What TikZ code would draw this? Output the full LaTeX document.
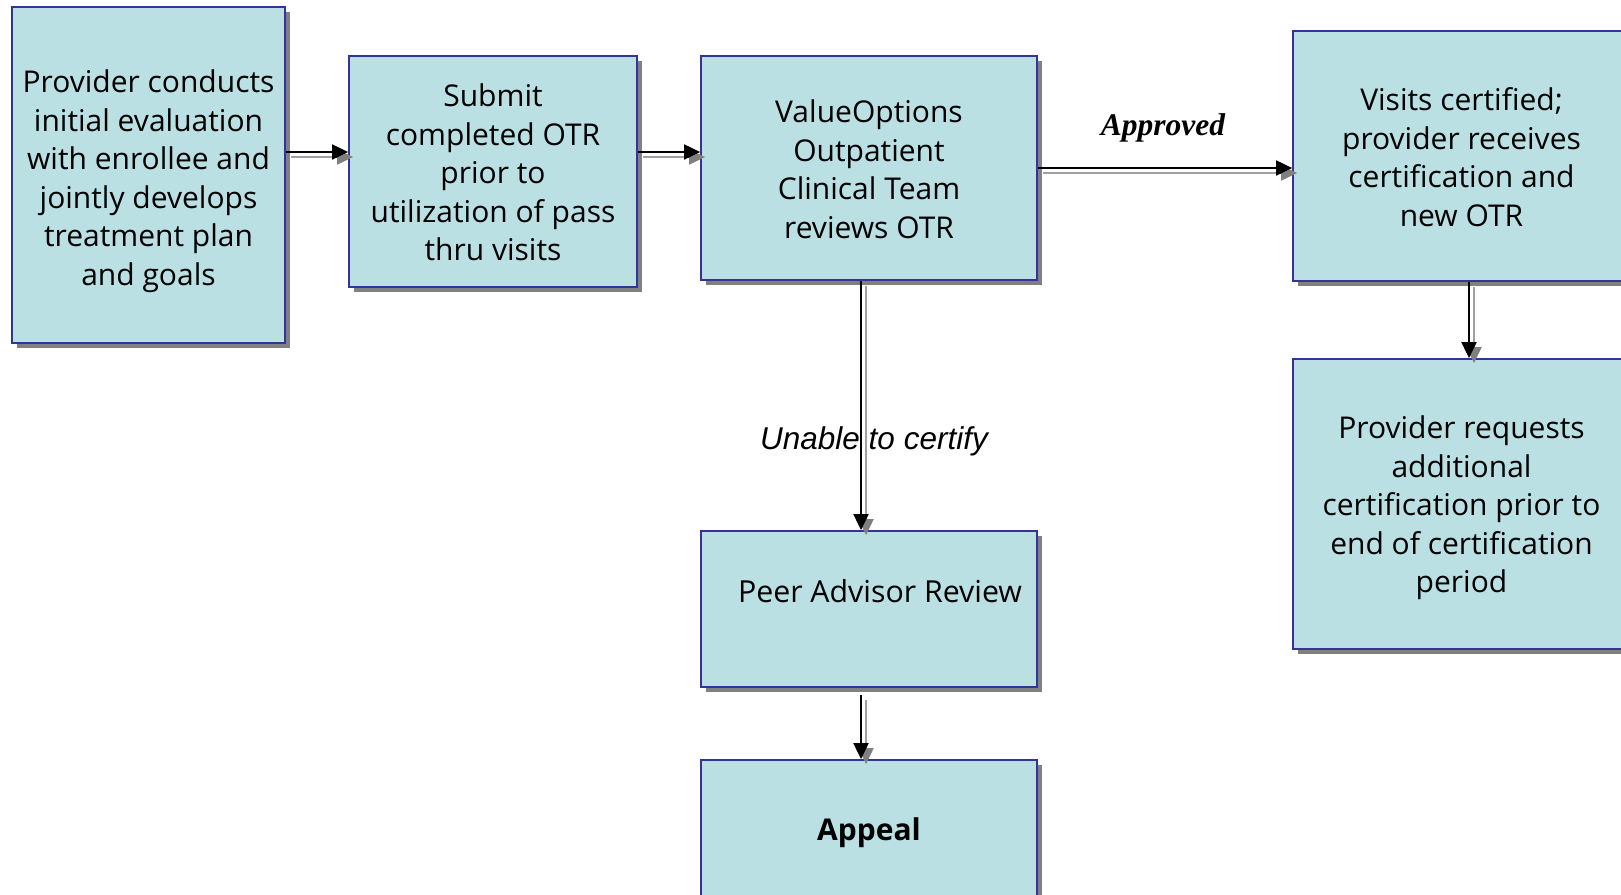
\documentclass[tikz,border=0pt]{standalone}
\usepackage{fontspec}
\setmainfont{Open Sans}
\newfontfamily\lblserif{Liberation Serif}
\newfontfamily\lblsans{Liberation Sans}
\usetikzlibrary{arrows.meta,shadows}
\definecolor{boxfill}{RGB}{186,224,228}
\definecolor{boxline}{RGB}{51,51,153}
\definecolor{shgray}{RGB}{128,128,128}
\definecolor{shline}{RGB}{160,160,160}
\tikzset{
  flowbox/.style={draw=boxline, line width=1.8pt, fill=boxfill, inner sep=0pt,
    drop shadow={shadow xshift=5pt, shadow yshift=-5pt, fill=shgray, opacity=1}},
  boxtext/.style={align=center, inner sep=0pt, font=\fontsize{30}{38.5}\selectfont},
  arr/.style={line width=2pt, draw=black, -{Triangle[length=16pt,width=15pt]}},
  sharr/.style={line width=2pt, draw=shline, -{Triangle[length=16pt,width=15pt,fill=shgray,color=shgray]},
    transform canvas={xshift=5pt,yshift=-5pt}},
  lbl/.style={inner sep=0pt}
}
\begin{document}
\begin{tikzpicture}[x=1pt,y=-1pt]
\useasboundingbox (0,0) rectangle (1621,894);
\clip (0,0) rectangle (1621,894);
\node[flowbox, minimum width=273pt, minimum height=336pt] (b1) at (148.5,175) {};
\node[flowbox, minimum width=288pt, minimum height=231pt] (b2) at (493,171.5) {};
\node[flowbox, minimum width=336pt, minimum height=224pt] (b3) at (869,168) {};
\node[flowbox, minimum width=337pt, minimum height=250pt] (b4) at (1461.5,156) {};
\node[flowbox, minimum width=337pt, minimum height=290pt] (b5) at (1461.5,504) {};
\node[flowbox, minimum width=336pt, minimum height=156pt] (b6) at (869,609) {};
\node[flowbox, minimum width=336pt, minimum height=140pt] (b7) at (869,830) {};

\node[boxtext] (b1t) at (148.5,181)
  {Provider conducts\\initial evaluation\\with enrollee and\\jointly develops\\treatment plan\\and goals};
\node[boxtext] (b2t) at (493,172.5)
  {Submit\\completed OTR\\prior to\\utilization of pass\\thru visits};
\node[boxtext] (b3t) at (869,169)
  {ValueOptions\\Outpatient\\Clinical Team\\reviews OTR};
\node[boxtext] (b4t) at (1461.5,157)
  {Visits certified;\\provider receives\\certification and\\new OTR};
\node[boxtext] (b5t) at (1461.5,508)
  {Provider requests\\additional\\certification prior to\\end of certification\\period};
\node[boxtext, font=\fontsize{30.3}{38.5}\selectfont] (b6t) at (880,591) {Peer Advisor Review};
\node[boxtext, font=\fontsize{30}{38.5}\selectfont\bfseries] (b7t) at (869,833) {Appeal};

\coordinate (r1) at (0,152);
\coordinate (r2) at (0,168);
\coordinate (cx) at (861,0);
\coordinate (cx2) at (1469,0);
\coordinate (p6) at (861,695);

% connector shadows
\draw[sharr] (b1.east |- r1) -- (b2.west |- r1);
\draw[sharr] (b2.east |- r1) -- (b3.west |- r1);
\draw[sharr] (b3.east |- r2) -- (b4.west |- r2);
\draw[sharr] (b3.south -| cx) -- (b6.north -| cx);
\draw[sharr] (b4.south -| cx2) -- (b5.north -| cx2);
\draw[sharr] (p6) -- (b7.north -| cx);
% connectors
\draw[arr] (b1.east |- r1) -- (b2.west |- r1);
\draw[arr] (b2.east |- r1) -- (b3.west |- r1);
\draw[arr] (b3.east |- r2) -- (b4.west |- r2);
\draw[arr] (b3.south -| cx) -- (b6.north -| cx);
\draw[arr] (b4.south -| cx2) -- (b5.north -| cx2);
\draw[arr] (p6) -- (b7.north -| cx);

\node[lbl, font=\lblserif\fontsize{31.5}{36}\selectfont\bfseries\itshape] (lapp) at (1163,128) {Approved};
\node[lbl, font=\lblsans\fontsize{31.5}{36}\selectfont\itshape] (lunc) at (874,441) {Unable to certify};
\end{tikzpicture}
\end{document}
